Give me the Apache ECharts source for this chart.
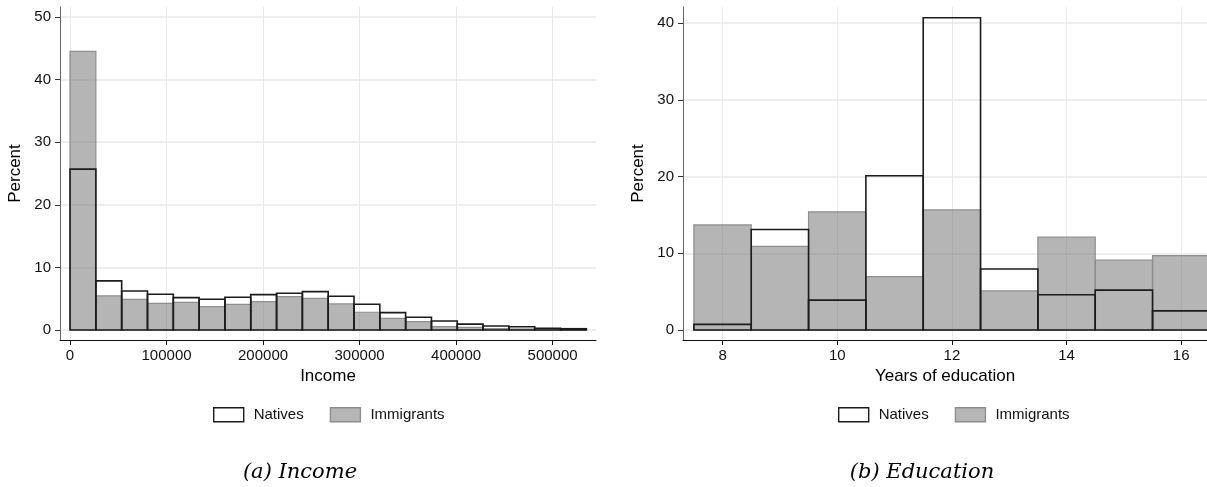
<!DOCTYPE html>
<html>
<head>
<meta charset="utf-8">
<script src="https://cdn.jsdelivr.net/npm/echarts@6/dist/echarts.min.js"></script>
<style>
html,body{margin:0;padding:0;background:#fff;}
#chart{width:1207px;height:487px;}
</style>
</head>
<body>
<div id="chart"></div>
<script>
// ---- Data ----
var incomeBinWidth = 26750;
var incomeNatives = [25.7, 7.84, 6.24, 5.7, 5.17, 4.9, 5.22, 5.65, 5.86, 6.13, 5.38, 4.1, 2.77, 2.03, 1.44, 0.93, 0.64, 0.52, 0.27, 0.2];
var incomeImmigrants = [44.5, 5.44, 4.9, 4.26, 4.42, 3.73, 4.1, 4.53, 5.33, 5.06, 4.16, 2.83, 1.86, 1.33, 0.55, 0.43, 0.22, 0.16, 0.12, 0.1];
var eduYears = [8, 9, 10, 11, 12, 13, 14, 15, 16];
var eduNatives = [0.74, 13.1, 3.9, 20.1, 40.7, 7.95, 4.6, 5.2, 2.5];
var eduImmigrants = [13.7, 10.9, 15.4, 6.95, 15.65, 5.1, 12.1, 9.1, 9.7];
var incomeTicks = [0, 100000, 200000, 300000, 400000, 500000];
var pctTicksLeft = [0, 10, 20, 30, 40, 50];
var eduTicks = [8, 10, 12, 14, 16];
var pctTicksRight = [0, 10, 20, 30, 40];

// ---- Build data rows [x0, x1, y] ----
var incNatRows = incomeNatives.map(function(v, i){ return [i*incomeBinWidth, (i+1)*incomeBinWidth, v]; });
var incImmRows = incomeImmigrants.map(function(v, i){ return [i*incomeBinWidth, (i+1)*incomeBinWidth, v]; });
var eduNatRows = eduNatives.map(function(v, i){ return [eduYears[i]-0.5, eduYears[i]+0.5, v]; });
var eduImmRows = eduImmigrants.map(function(v, i){ return [eduYears[i]-0.5, eduYears[i]+0.5, v]; });

var FONT = '"Liberation Sans", Arial, sans-serif';
var natStyle = {fill: 'none', stroke: '#1c1c1c', lineWidth: 1.6};
var immStyle = {fill: 'rgba(118,118,118,0.54)', stroke: '#8e8e8e', lineWidth: 1.2};

function histSeries(name, rows, xi, yi, st, z){
  return {
    type: 'custom', name: name, xAxisIndex: xi, yAxisIndex: yi, clip: true, z: z,
    itemStyle: {color: st.fill === 'none' ? '#fff' : st.fill, borderColor: st.stroke, borderWidth: st.lineWidth},
    encode: {x: [0, 1], y: 2},
    data: rows,
    renderItem: function(params, api){
      var p0 = api.coord([api.value(0), api.value(2)]);
      var p1 = api.coord([api.value(1), 0]);
      return {
        type: 'rect',
        shape: {x: p0[0], y: p0[1], width: p1[0]-p0[0], height: p1[1]-p0[1]},
        style: {fill: st.fill, stroke: st.stroke, lineWidth: st.lineWidth}
      };
    }
  };
}

function plain(v){ return String(v); }

function xAxisCfg(gi, min, max, ticks, name){
  return {
    type: 'value', gridIndex: gi, min: min, max: max, position: 'bottom',
    name: name, nameLocation: 'middle', nameGap: 25,
    nameTextStyle: {fontFamily: FONT, fontSize: 17, color: '#000'},
    axisLine: {onZero: false, lineStyle: {color: '#111', width: 1}},
    axisTick: {show: true, length: 5, customValues: ticks, lineStyle: {color: '#111'}},
    axisLabel: {customValues: ticks, formatter: plain, fontFamily: FONT, fontSize: 15, color: '#111', margin: 8},
    splitLine: {show: true, lineStyle: {color: '#e9e9e9', width: 1}}
  };
}
function yAxisCfg(gi, min, max, ticks){
  return {
    type: 'value', gridIndex: gi, min: min, max: max,
    name: 'Percent', nameLocation: 'middle', nameGap: 36, nameRotate: 90,
    nameTextStyle: {fontFamily: FONT, fontSize: 17, color: '#000'},
    axisLine: {show: true, onZero: false, lineStyle: {color: '#666', width: 1}},
    axisTick: {show: true, length: 5, customValues: ticks, lineStyle: {color: '#333'}},
    axisLabel: {customValues: ticks, formatter: plain, fontFamily: FONT, fontSize: 15, color: '#111', margin: 9},
    splitLine: {show: true, lineStyle: {color: '#e9e9e9', width: 1.5}}
  };
}

function legendCfg(left){
  return {
    left: left, top: 402, orient: 'horizontal', itemWidth: 30, itemHeight: 14, itemGap: 26,
    selectedMode: false, icon: 'rect',
    textStyle: {fontFamily: FONT, fontSize: 15, color: '#111', padding: [0, 0, 0, 5]},
    data: [
      {name: 'Natives', itemStyle: {color: '#ffffff', borderColor: '#1c1c1c', borderWidth: 1.4}},
      {name: 'Immigrants', itemStyle: {color: '#b6b6b6', borderColor: '#8e8e8e', borderWidth: 1.4}}
    ]
  };
}

var chart = echarts.init(document.getElementById('chart'), null, {renderer: 'canvas'});
chart.setOption({
  animation: false,
  backgroundColor: '#fff',
  grid: [
    {left: 60, right: 611, top: 7, bottom: 147, containLabel: false},
    {left: 683, right: 0, top: 7, bottom: 147, containLabel: false}
  ],
  xAxis: [
    xAxisCfg(0, -10400, 545000, incomeTicks, 'Income'),
    xAxisCfg(1, 7.31, 16.45, eduTicks, 'Years of education')
  ],
  yAxis: [
    yAxisCfg(0, -1.6, 51.6, pctTicksLeft),
    yAxisCfg(1, -1.3, 42.1, pctTicksRight)
  ],
  legend: [legendCfg(208), legendCfg(833)],
  series: [
    histSeries('Immigrants', incImmRows, 0, 0, immStyle, 2),
    histSeries('Natives', incNatRows, 0, 0, natStyle, 3),
    histSeries('Immigrants', eduImmRows, 1, 1, immStyle, 2),
    histSeries('Natives', eduNatRows, 1, 1, natStyle, 3)
  ],
  graphic: [
    {type: 'text', x: 300, y: 473, style: {text: '(a) Income', font: 'italic 21px "DejaVu Serif", serif', fill: '#000', textAlign: 'center', textVerticalAlign: 'middle'}},
    {type: 'text', x: 922, y: 473, style: {text: '(b) Education', font: 'italic 21px "DejaVu Serif", serif', fill: '#000', textAlign: 'center', textVerticalAlign: 'middle'}}
  ]
});
</script>
</body>
</html>
